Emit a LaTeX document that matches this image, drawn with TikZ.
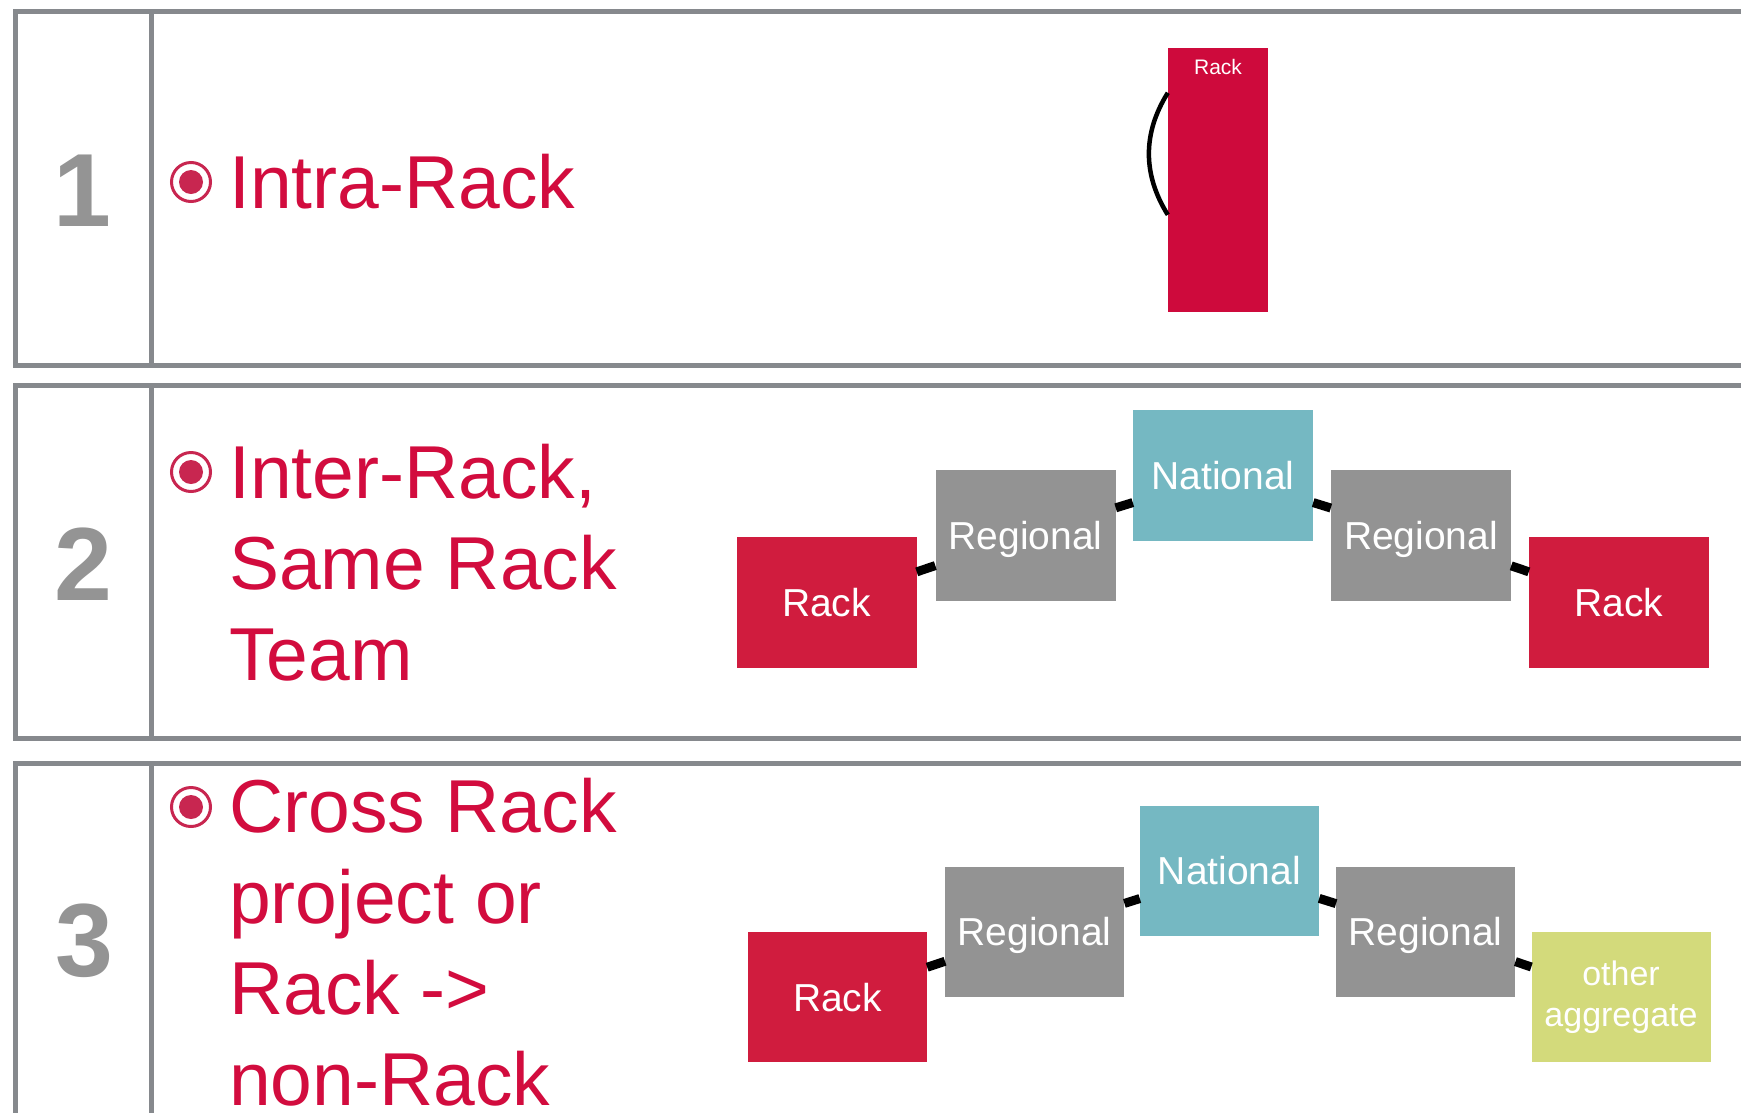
\documentclass[tikz,border=0pt]{standalone}
\usepackage{fontspec}
\setmainfont{Liberation Sans}
\usetikzlibrary{calc}
\definecolor{framegrey}{RGB}{134,137,141}
\definecolor{digitgrey}{RGB}{148,148,148}
\definecolor{redtxt}{RGB}{210,12,62}
\definecolor{bulred}{RGB}{200,38,80}
\definecolor{rackred}{RGB}{208,28,62}
\definecolor{rackonered}{RGB}{206,10,60}
\definecolor{reggrey}{RGB}{147,147,147}
\definecolor{natteal}{RGB}{117,184,194}
\definecolor{othgreen}{RGB}{211,218,123}
\begin{document}
\begin{tikzpicture}[x=1pt,y=-1pt,
  framebox/.style={draw=framegrey,line width=5},
  numtxt/.style={text=digitgrey,font=\fontsize{104}{110}\selectfont\bfseries,inner sep=0},
  itemtxt/.style={text=redtxt,font=\fontsize{75}{91}\selectfont,align=left,inner sep=0,anchor=base west},
  bulring/.style={circle,draw=bulred,line width=3,minimum size=39,inner sep=0},
  buldot/.style={circle,fill=bulred,minimum size=24,inner sep=0},
  blk/.style={rectangle,minimum width=180,minimum height=131,inner sep=0,text=white,
    font=\fontsize{39}{45}\selectfont,text height=28,text depth=0},
  blkc/.style={blk,minimum width=179,minimum height=130},
  rackbox/.style={fill=rackred},
  regbox/.style={fill=reggrey},
  natbox/.style={fill=natteal},
  othbox/.style={fill=othgreen},
  conn/.style={line width=9,black}
]
\useasboundingbox (0,0) rectangle (1741,1112);
\clip (0,0) rectangle (1741,1112);
\fill[white] (0,0) rectangle (1741,1112);

% frames
\draw[framebox] (15,11.5) rectangle (1790,365.5);
\draw[framebox] (151,11.5) -- (151,365.5);
\draw[framebox] (15,385) rectangle (1790,738.5);
\draw[framebox] (151,385) -- (151,738.5);
\draw[framebox] (15,763) rectangle (1790,1140);
\draw[framebox] (151,763) -- (151,1140);

% numbers
\node[numtxt] (n1) at (82,190.5) {1};
\node[numtxt] (n2) at (83.5,564.5) {2};
\node[numtxt] (n3) at (84,940.5) {3};

% bullets
\node[bulring] (b1) at (191,182) {};
\node[buldot] (b1d) at (b1) {};
\node[bulring] (b2) at (191,472) {};
\node[buldot] (b2d) at (b2) {};
\node[bulring] (b3) at (191,807) {};
\node[buldot] (b3d) at (b3) {};

% item texts (base anchor = last line)
\node[itemtxt] (t1) at (229,208) {Intra-Rack};
\node[itemtxt] (t2) at (229,680) {Inter-Rack,\\Same Rack\\Team};
\node[itemtxt] (t3) at (229,1105) {Cross Rack\\project or\\Rack ->\\non-Rack};

% diagram 1
\node[fill=rackonered,minimum width=100,minimum height=264,inner sep=0] (r1) at (1218,179.5) {};
\node[text=white,inner sep=0,font=\fontsize{21}{24}\selectfont] (r1t) at ($(r1.north)+(0,19.5)$) {Rack};
\coordinate (r1a) at ($(r1.north west)+(0,45.5)$);
\coordinate (r1b) at ($(r1.north west)+(0,167.5)$);
\draw[line width=4.5,black] (r1a) to[bend right=32] (r1b);

% diagram 2
\node[blk,rackbox] (rackA) at (826.5,602) {Rack};
\node[blk,regbox] (regA) at (1025.5,535.5) {Regional};
\node[blk,natbox] (natA) at (1223,475) {National};
\node[blk,regbox] (regB) at (1421,535.5) {Regional};
\node[blk,rackbox] (rackB) at (1619,602) {Rack};
\draw[conn] (rackA) -- (regA);
\draw[conn] (regA) -- (natA);
\draw[conn] (natA) -- (regB);
\draw[conn] (regB) -- (rackB);

% diagram 3
\node[blkc,rackbox] (rackC) at (837.5,997) {Rack};
\node[blkc,regbox] (regC) at (1034.7,931.5) {Regional};
\node[blkc,natbox] (natC) at (1229.5,870.5) {National};
\node[blkc,regbox] (regD) at (1425.7,931.5) {Regional};
\node[blkc,othbox] (othC) at (1621,997) {};
\node[text=white,inner sep=0,align=center,font=\fontsize{34}{41}\selectfont,anchor=base] (othT) at (1621,1026) {other\\aggregate};
\draw[conn] (rackC) -- (regC);
\draw[conn] (regC) -- (natC);
\draw[conn] (natC) -- (regD);
\draw[conn] (regD) -- (othC);
\end{tikzpicture}
\end{document}
